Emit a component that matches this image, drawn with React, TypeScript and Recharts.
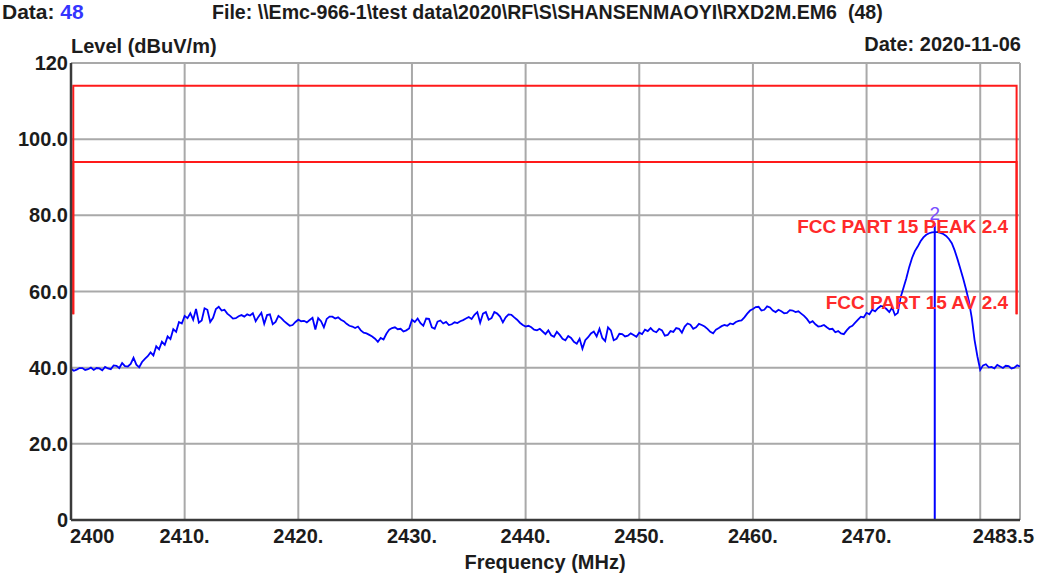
import React from 'react';
import { LineChart, Line, XAxis, YAxis, CartesianGrid, ReferenceLine, ReferenceDot } from 'recharts';

// ---- data ----
const sweepStartMHz = 2400;
const sweepStepMHz = 0.25;
const levelDbuv = [
  39.7, 39.2, 39.5, 39.9, 39.9, 39.4, 39.6, 40.0, 39.4, 39.9, 39.8, 39.3,
  40.2, 39.8, 39.6, 40.6, 40.5, 39.9, 41.2, 40.4, 40.3, 41.0, 42.6, 40.8,
  40.1, 41.5, 42.3, 43.0, 44.0, 43.2, 45.6, 44.8, 46.8, 46.0, 48.2, 47.5,
  50.1, 49.4, 52.0, 51.6, 53.6, 53.0, 54.3, 52.6, 55.4, 51.8, 52.4, 55.6,
  55.2, 52.0, 53.1, 55.4, 56.0, 55.0, 55.2, 54.2, 53.6, 52.9, 53.0, 53.5,
  53.8, 53.4, 54.0, 53.7, 54.3, 52.2, 53.4, 54.4, 51.5, 53.8, 54.0, 51.4,
  52.0, 53.6, 53.0, 52.2, 51.6, 51.0, 51.2, 52.0, 52.6, 52.2, 52.3, 51.9,
  52.5, 53.1, 50.0, 53.0, 52.2, 50.6, 52.8, 53.4, 53.4, 52.9, 53.2, 52.6,
  52.2, 51.5, 51.0, 50.8, 50.4, 50.8, 49.8, 49.2, 49.0, 48.6, 48.2, 47.6,
  46.8, 47.8, 47.4, 48.9, 50.0, 50.4, 50.6, 50.1, 50.2, 49.5, 49.8, 50.3,
  52.6, 52.0, 52.9, 51.7, 51.0, 52.9, 52.8, 50.6, 50.2, 52.1, 52.4, 51.6,
  52.0, 51.2, 51.4, 51.9, 51.7, 52.2, 52.5, 52.9, 53.3, 52.8, 53.9, 54.6,
  51.8, 54.2, 54.6, 52.6, 53.0, 54.6, 54.2, 53.4, 51.9, 53.2, 54.0, 53.9,
  53.2, 52.6, 51.8, 51.2, 50.8, 51.0, 50.6, 50.0, 49.8, 50.2, 49.5, 48.8,
  49.8, 48.5, 48.1, 49.4, 48.6, 47.6, 47.2, 48.3, 47.8, 46.8, 46.3, 47.6,
  45.0, 47.2, 48.0, 49.0, 49.5, 48.2, 50.2, 47.8, 47.0, 50.6, 49.8, 47.2,
  47.6, 48.9, 48.8, 48.2, 48.4, 49.0, 48.6, 48.1, 49.2, 48.8, 50.0, 49.6,
  50.4, 49.6, 49.3, 50.2, 49.8, 48.4, 48.6, 49.6, 49.4, 50.4, 50.2, 49.2,
  50.8, 51.6, 51.3, 50.2, 50.6, 51.5, 51.2, 50.8, 50.2, 49.4, 49.0, 50.0,
  50.4, 50.9, 51.2, 51.0, 51.6, 51.4, 52.0, 52.3, 52.4, 53.2, 54.2, 55.0,
  55.4, 55.9, 56.0, 55.0, 55.2, 56.1, 55.8, 55.0, 54.6, 55.2, 54.8, 54.3,
  54.4, 55.1, 55.0, 54.6, 54.8, 54.2, 53.6, 52.8, 51.8, 52.2, 51.4, 50.8,
  50.9, 51.2, 50.6, 50.1, 50.2, 49.3, 49.6, 49.0, 48.8, 49.8, 50.6, 51.0,
  51.8, 52.6, 53.4, 53.2, 54.4, 54.0, 55.2, 54.8, 55.6, 56.2, 56.0, 55.4,
  54.6, 55.8, 53.8, 54.4, 58.5, 61.0, 63.5, 66.4, 68.8, 70.6, 71.8, 73.2,
  74.2, 74.9, 75.3, 75.5, 75.6, 75.6, 75.4, 75.1, 74.6, 73.8, 72.7, 70.8,
  68.5, 66.0, 63.4, 60.6, 57.5, 53.2, 47.3, 43.0, 39.4, 40.6, 40.9, 40.1,
  40.2, 39.8, 40.7, 40.3, 39.9, 40.5, 40.4, 39.8, 40.0, 40.6, 40.3,
];

const peakLimitFreq = [2400.2, 2400.2, 2483.2, 2483.2];
const peakLimitLevel = [54, 114, 114, 54];
const avLimitFreq = [2400.2, 2400.2, 2483.2, 2483.2];
const avLimitLevel = [54, 94, 94, 54];

const markerFreq = 2476.0;
const markerTop = 78;
const markerLabelLevel = 80.6;
const markerName = '2';

const limitLabels = ['FCC PART 15 PEAK 2.4', 'FCC PART 15 AV 2.4'];
const limitLabelFreq = [2482.45, 2482.45];
const limitLabelLevel = [77.2, 57.2];

const xTicks = [2400, 2410, 2420, 2430, 2440, 2450, 2460, 2470, 2480, 2483.5];
const xTickLabels = ['2400', '2410.', '2420.', '2430.', '2440.', '2450.', '2460.', '2470.', '', '2483.5'];
const yTicks = [0, 20, 40, 60, 80, 100, 120];
const yTickLabels = ['0', '20.0', '40.0', '60.0', '80.0', '100.0', '120'];

const traceData = levelDbuv.map((v, i) => ({ f: sweepStartMHz + i * sweepStepMHz, level: v }));
const peakLimitData = peakLimitFreq.map((f, i) => ({ f, level: peakLimitLevel[i] }));
const avLimitData = avLimitFreq.map((f, i) => ({ f, level: avLimitLevel[i] }));

// ---- styles ----
const FONT = "'Liberation Sans', Arial, sans-serif";
const TEXT = '#1c1c1c';
const AXIS = '#3a3a3a';
const GRID = '#a9a9a9';

const XTick = (props: any) => {
  const { x, y, payload } = props;
  const idx = xTicks.indexOf(payload.value);
  const label = xTickLabels[idx] ?? '';
  let anchor: any = 'middle';
  let dx = 0;
  if (idx === 0) { anchor = 'start'; dx = -1; }
  if (idx === xTicks.length - 1) { anchor = 'end'; dx = 14; }
  return (
    <text x={x + dx} y={y + 23} textAnchor={anchor} fontFamily={FONT} fontWeight="bold" fontSize={20} fill={TEXT}>
      {label}
    </text>
  );
};

const YTick = (props: any) => {
  const { x, y, payload } = props;
  const idx = yTicks.indexOf(payload.value);
  const label = yTickLabels[idx] ?? '';
  return (
    <text x={x - 3} y={y + 7} textAnchor="end" fontFamily={FONT} fontWeight="bold" fontSize={20} fill={TEXT}>
      {label}
    </text>
  );
};

const makeLimitLabel = (text: string) => (props: any) => {
  const vb = props.viewBox || {};
  const cx = (vb.x ?? 0) + (vb.width ?? 0) / 2;
  const cy = (vb.y ?? 0) + (vb.height ?? 0) / 2;
  return (
    <text x={cx} y={cy + 7} textAnchor="end" fontFamily={FONT} fontWeight="bold" fontSize={19} fill="#ff2a2a">
      {text}
    </text>
  );
};

const markerLabel = (props: any) => {
  const vb = props.viewBox || {};
  const cx = (vb.x ?? 0) + (vb.width ?? 0) / 2;
  const cy = (vb.y ?? 0) + (vb.height ?? 0) / 2;
  return (
    <text x={cx} y={cy + 7} textAnchor="middle" fontFamily={FONT} fontSize={19} fill="#7a4dff">
      {markerName}
    </text>
  );
};

const textStyle: React.CSSProperties = {
  position: 'absolute',
  fontFamily: FONT,
  fontWeight: 'bold',
  fontSize: 20,
  lineHeight: '20px',
  color: TEXT,
  whiteSpace: 'pre',
};

export default function App() {
  return (
    <div style={{ position: 'absolute', left: 0, top: 0, width: 1041, height: 576, background: '#ffffff' }}>
      <div style={{ ...textStyle, left: 2, top: 2, fontSize: 21 }}>
        Data: <span style={{ color: '#3535ff' }}>48</span>
      </div>
      <div style={{ ...textStyle, left: 212, top: 2, fontSize: 19.6 }}>
        {'File: \\\\Emc-966-1\\test data\\2020\\RF\\S\\SHANSENMAOYI\\RXD2M.EM6  (48)'}
      </div>
      <div style={{ ...textStyle, left: 71, top: 36 }}>Level (dBuV/m)</div>
      <div style={{ ...textStyle, right: 1041 - 1021, top: 34 }}>Date: 2020-11-06</div>
      <div style={{ ...textStyle, left: 0, width: 1090, textAlign: 'center', top: 552 }}>Frequency (MHz)</div>

      <LineChart
        width={1041}
        height={576}
        data={traceData}
        margin={{ top: 63, right: 21, bottom: 0, left: 0 }}
      >
        <CartesianGrid stroke={GRID} strokeWidth={2} />
        <XAxis
          dataKey="f"
          type="number"
          domain={[2400, 2483.5]}
          ticks={xTicks}
          interval={0}
          height={56}
          tickSize={0}
          tickMargin={0}
          tickLine={false}
          axisLine={{ stroke: AXIS, strokeWidth: 2.5 }}
          tick={<XTick />}
          allowDataOverflow
        />
        <XAxis
          xAxisId="top"
          orientation="top"
          type="number"
          domain={[2400, 2483.5]}
          height={0}
          tick={false}
          tickLine={false}
          axisLine={{ stroke: AXIS, strokeWidth: 2.5 }}
        />
        <YAxis
          type="number"
          domain={[0, 120]}
          ticks={yTicks}
          interval={0}
          width={71}
          tickSize={0}
          tickMargin={0}
          tickLine={false}
          axisLine={{ stroke: AXIS, strokeWidth: 2.5 }}
          tick={<YTick />}
          allowDataOverflow
        />
        <YAxis
          yAxisId="right"
          orientation="right"
          type="number"
          domain={[0, 120]}
          width={0}
          tick={false}
          tickLine={false}
          axisLine={{ stroke: AXIS, strokeWidth: 2.5 }}
        />
        <Line data={peakLimitData} dataKey="level" stroke="#ff1a1a" strokeWidth={2} dot={false} isAnimationActive={false} type="linear" />
        <Line data={avLimitData} dataKey="level" stroke="#ff1a1a" strokeWidth={2} dot={false} isAnimationActive={false} type="linear" />
        <Line dataKey="level" stroke="#0000ff" strokeWidth={1.8} dot={false} isAnimationActive={false} type="linear" />
        <ReferenceLine
          segment={[{ x: markerFreq, y: 0 }, { x: markerFreq, y: markerTop }]}
          stroke="#0000ff"
          strokeWidth={2}
        />
        <ReferenceDot x={markerFreq} y={markerLabelLevel} r={0.1} fill="none" stroke="none" label={markerLabel} />
        {limitLabels.map((t, i) => (
          <ReferenceDot
            key={t}
            x={limitLabelFreq[i]}
            y={limitLabelLevel[i]}
            r={0.1}
            fill="none"
            stroke="none"
            label={makeLimitLabel(t)}
          />
        ))}
      </LineChart>
    </div>
  );
}
